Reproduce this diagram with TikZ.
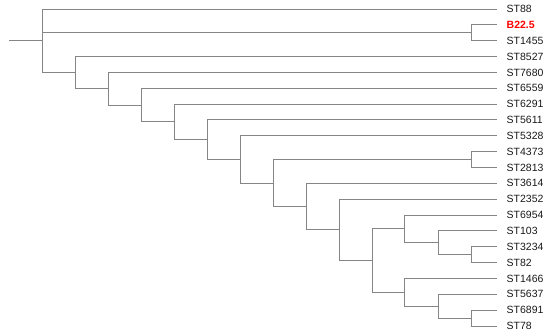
\documentclass[tikz,border=0pt]{standalone}
\usepackage{fontspec}
\setmainfont{Liberation Sans}
\begin{document}
\begin{tikzpicture}[x=1pt,y=-1pt,
  branch/.style={draw=black!48,line width=1pt},
  leaf/.style={anchor=west,inner xsep=9.5pt,inner ysep=0pt,font=\fontsize{10.5}{12}\selectfont,text=black!90},
  hilite/.style={text=red,font=\fontsize{10.5}{12}\selectfont\bfseries}]
\useasboundingbox (0,0) rectangle (550,335);
% leaves
\foreach \n/\t [count=\i from 0] in {l0/ST88,l1/B22.5,l2/ST1455,l3/ST8527,l4/ST7680,l5/ST6559,l6/ST6291,l7/ST5611,l8/ST5328,l9/ST4373,l10/ST2813,l11/ST3614,l12/ST2352,l13/ST6954,l14/ST103,l15/ST3234,l16/ST82,l17/ST1466,l18/ST5637,l19/ST6891,l20/ST78}{
  \ifnum\i=1
    \node[leaf,hilite] (\n) at (497,{9+15.85*\i}) {\t};
  \else
    \node[leaf] (\n) at (497,{9+15.85*\i}) {\t};
  \fi
}
% internal nodes
\coordinate (r0) at (9,40.8);
\coordinate (root) at (42,40.8);
\coordinate (a) at (471,32.78);
\coordinate (n75) at (75,72.65);
\coordinate (n108) at (108,88.74);
\coordinate (n141) at (141,105.08);
\coordinate (n174) at (174,121.9);
\coordinate (n207) at (207,139.7);
\coordinate (n240) at (240,159.45);
\coordinate (n273) at (273,183.1);
\coordinate (b) at (471,159.58);
\coordinate (n306) at (306,206.63);
\coordinate (n339) at (339,229.91);
\coordinate (n372) at (372,260.62);
\coordinate (p) at (404,228.92);
\coordinate (q) at (438,242.79);
\coordinate (s) at (471,254.68);
\coordinate (u) at (404,292.32);
\coordinate (v) at (438,306.19);
\coordinate (w) at (471,318.08);
% branches
\draw[branch] (r0) -- (root);
\draw[branch] (root) |- (l0.west);
\draw[branch] (root) |- (a);
\draw[branch] (root) |- (n75);
\draw[branch] (a) |- (l1.west);
\draw[branch] (a) |- (l2.west);
\draw[branch] (n75) |- (l3.west);
\draw[branch] (n75) |- (n108);
\draw[branch] (n108) |- (l4.west);
\draw[branch] (n108) |- (n141);
\draw[branch] (n141) |- (l5.west);
\draw[branch] (n141) |- (n174);
\draw[branch] (n174) |- (l6.west);
\draw[branch] (n174) |- (n207);
\draw[branch] (n207) |- (l7.west);
\draw[branch] (n207) |- (n240);
\draw[branch] (n240) |- (l8.west);
\draw[branch] (n240) |- (n273);
\draw[branch] (n273) |- (b);
\draw[branch] (n273) |- (n306);
\draw[branch] (b) |- (l9.west);
\draw[branch] (b) |- (l10.west);
\draw[branch] (n306) |- (l11.west);
\draw[branch] (n306) |- (n339);
\draw[branch] (n339) |- (l12.west);
\draw[branch] (n339) |- (n372);
\draw[branch] (n372) |- (p);
\draw[branch] (n372) |- (u);
\draw[branch] (p) |- (l13.west);
\draw[branch] (p) |- (q);
\draw[branch] (q) |- (l14.west);
\draw[branch] (q) |- (s);
\draw[branch] (s) |- (l15.west);
\draw[branch] (s) |- (l16.west);
\draw[branch] (u) |- (l17.west);
\draw[branch] (u) |- (v);
\draw[branch] (v) |- (l18.west);
\draw[branch] (v) |- (w);
\draw[branch] (w) |- (l19.west);
\draw[branch] (w) |- (l20.west);
\end{tikzpicture}
\end{document}
